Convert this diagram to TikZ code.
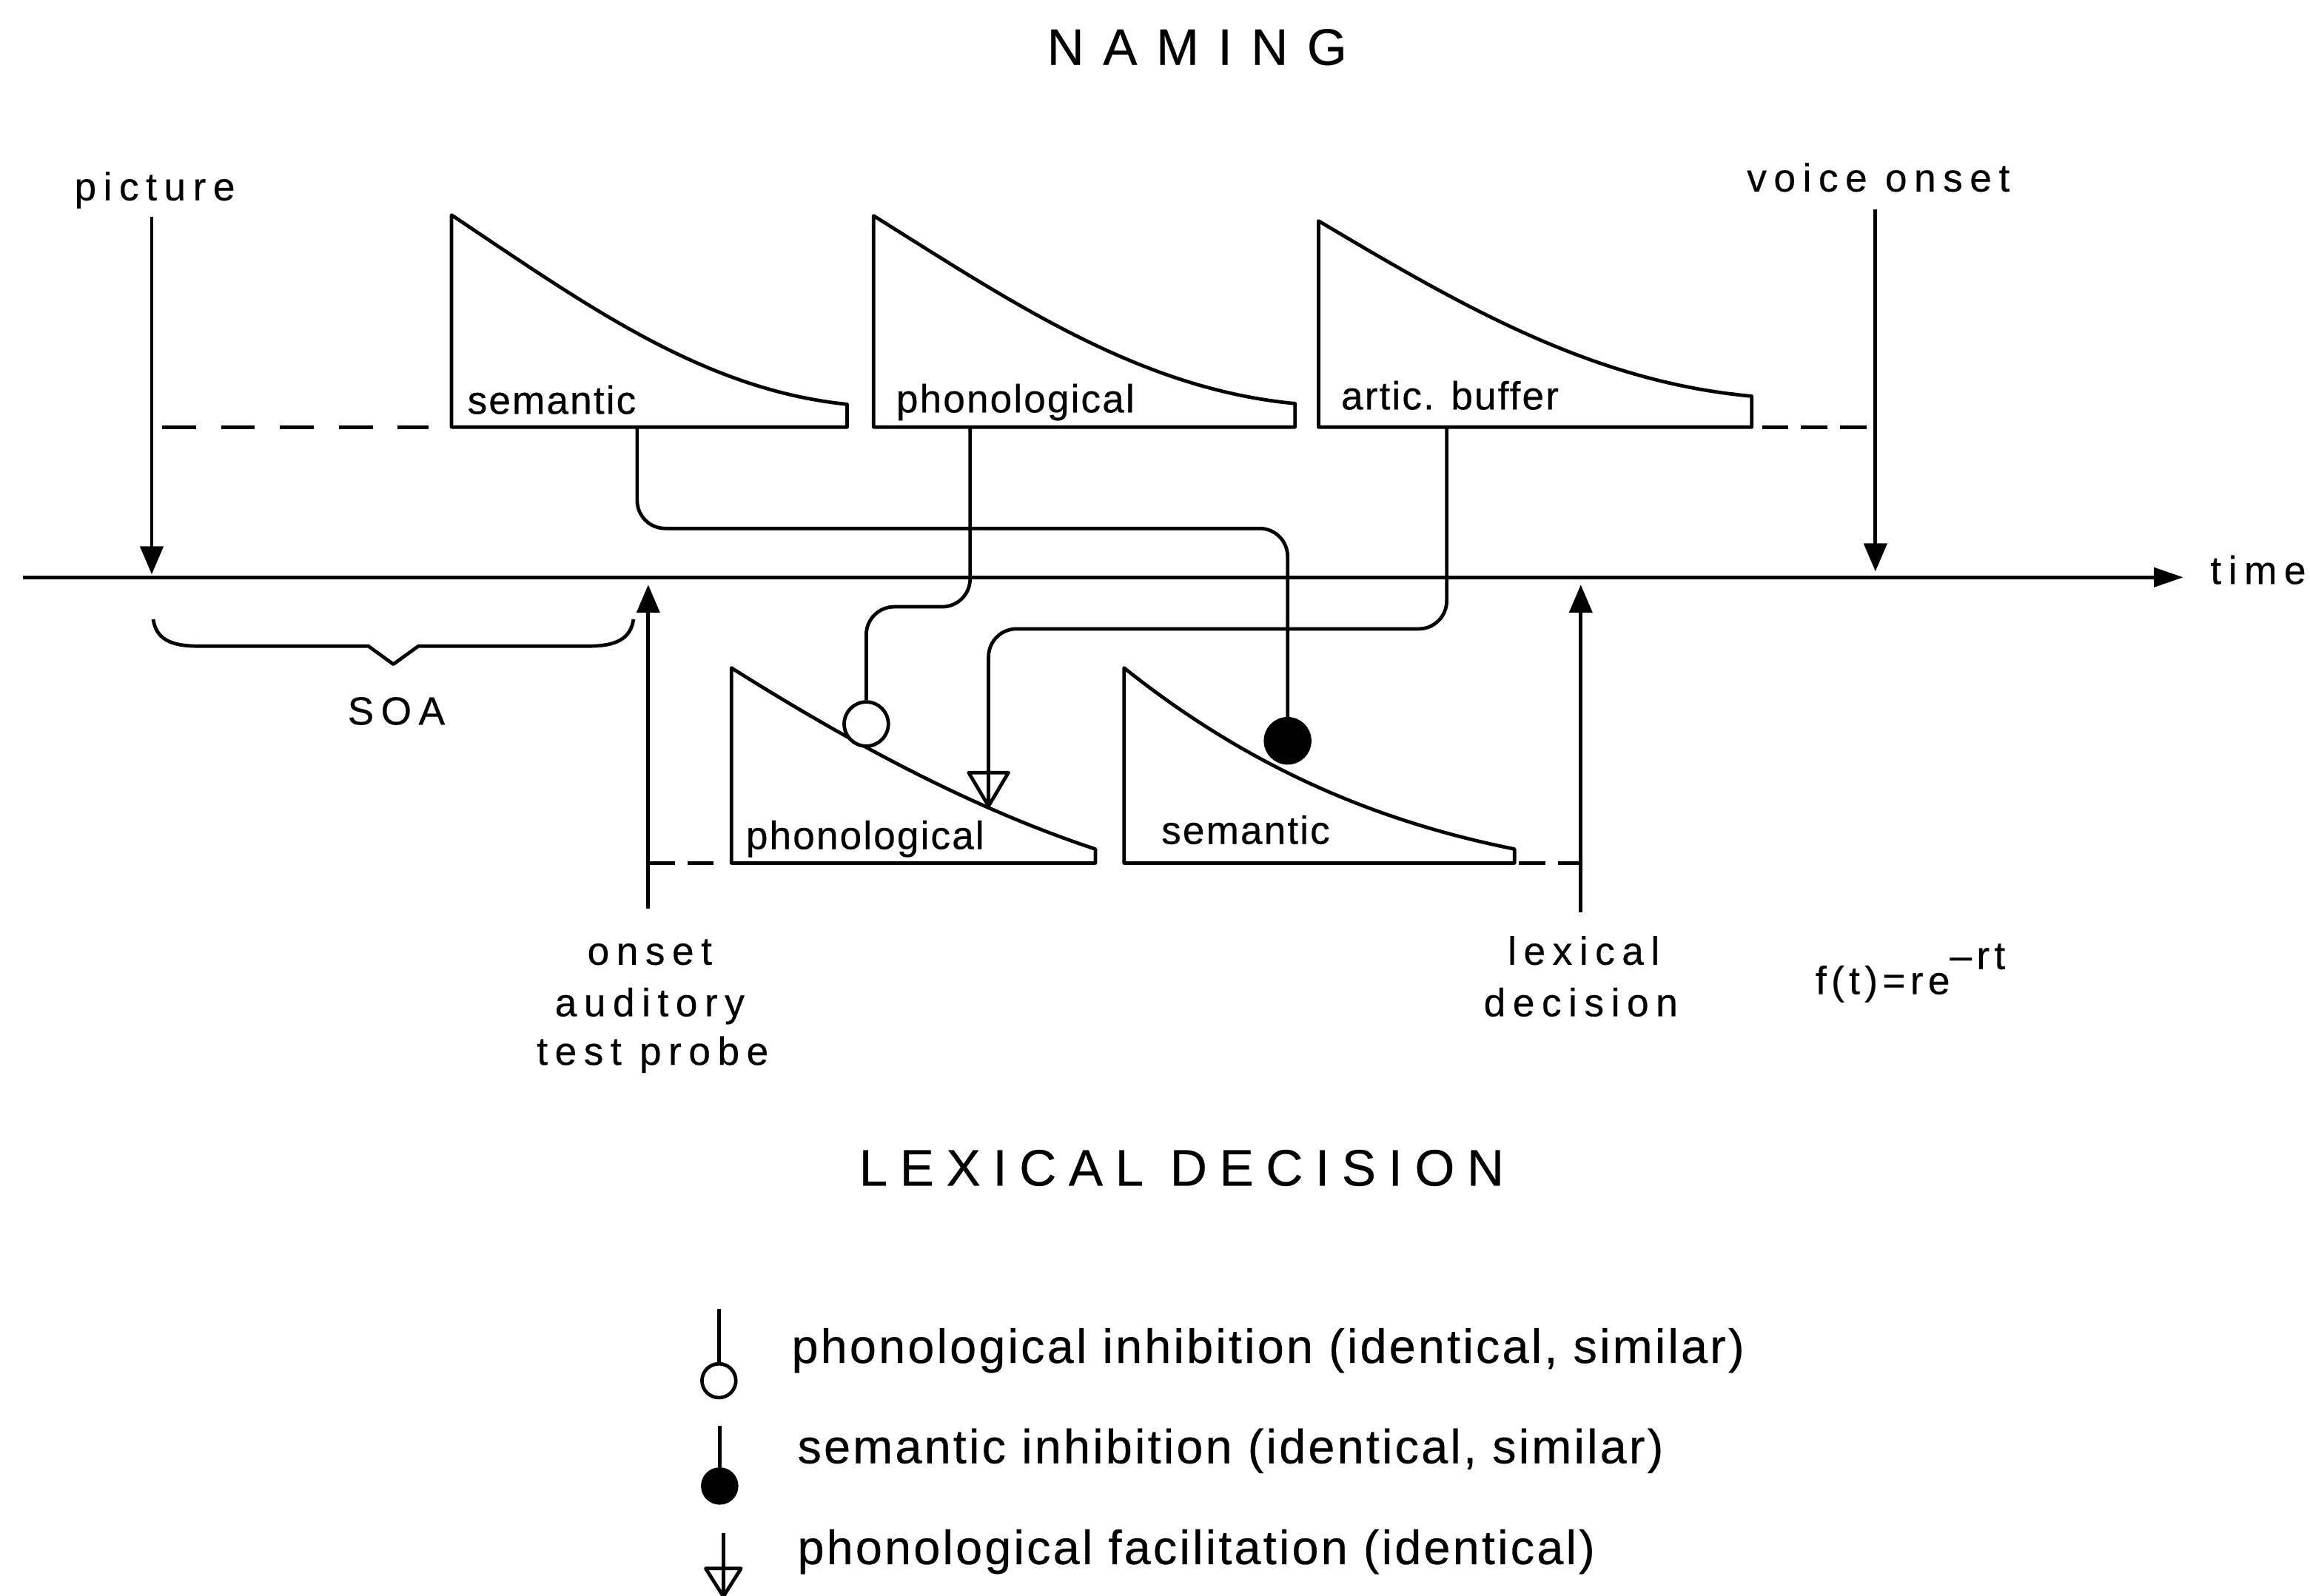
\documentclass[tikz,border=0pt]{standalone}
\usepackage{fontspec}
\setmainfont{Liberation Sans}
\newfontfamily\lblfont[LetterSpace=18,FakeBold=0.4]{Liberation Sans}
\newfontfamily\ftfont[LetterSpace=12,FakeBold=0.4]{Liberation Sans}
\newfontfamily\trifont[LetterSpace=4,FakeBold=0.4]{Liberation Sans}
\newfontfamily\legfont[LetterSpace=5,FakeBold=0.4]{Liberation Sans}
\newfontfamily\namefont[LetterSpace=37,FakeBold=0.4]{Liberation Sans}
\newfontfamily\lexfont[LetterSpace=24,FakeBold=0.4]{Liberation Sans}
\usetikzlibrary{arrows.meta,calc}

\tikzset{
  ln/.style={line width=1.35pt, line join=round},
  conn/.style={ln, rounded corners=0.38cm},
  marrow/.style={ln, -{Triangle[length=0.38cm,width=0.31cm]}},
  taxis/.style={ln, -{Triangle[length=0.4cm,width=0.26cm]}},
  lbl/.style={inner sep=0, font=\lblfont\fontsize{15.2}{18.8}\selectfont},
  trilbl/.style={inner sep=0, anchor=base west, font=\trifont\fontsize{15.2}{18}\selectfont},
  leg/.style={inner sep=0, anchor=base west, font=\legfont\fontsize{18.5}{22}\selectfont},
  ttl/.style={inner sep=0, anchor=base},
  inhopen/.style={circle, draw, line width=1.35pt, fill=white, inner sep=0, minimum size=0.6cm},
  inhfill/.style={circle, draw, fill=black, line width=1.35pt, inner sep=0, minimum size=0.6cm},
  dsh/.style={ln, dash pattern=on 0.46cm off 0.34cm},
  dshs/.style={ln, dash pattern=on 0.36cm off 0.17cm},
}

% name, x0, ytop, ybottom, x1, yend, first control point, second control point
\newcommand\decayshape[8]{%
  \coordinate (#1-tl) at (#2,#3);
  \coordinate (#1-bl) at (#2,#4);
  \coordinate (#1-br) at (#5,#4);
  \coordinate (#1-tr) at (#5,#6);
  \draw[ln] (#1-tr) -- (#1-br) -- (#1-bl) -- (#1-tl)
    .. controls (#7) and (#8) .. (#1-tr) -- cycle;
}

\begin{document}
\begin{tikzpicture}[x=0.02cm, y=-0.02cm]
\fill[white] (0,0) rectangle (1568,1083.2);
\useasboundingbox (0,0) rectangle (1568,1083.2);

% titles
\node[ttl, font=\namefont\fontsize{19.8}{24}\selectfont] (naming) at (812.5,44) {NAMING};
\node[ttl, font=\lexfont\fontsize{19.8}{24}\selectfont] (lexdec) at (802,805) {LEXICAL DECISION};

% time axis
\coordinate (ax0) at (15.6,392);
\coordinate (ax1) at (1482,392);
\draw[taxis] (ax0) -- (ax1);
\node[lbl, anchor=base west] (time) at (1500,396.5) {time};

% activation curves, naming
\decayshape{semT}{306.5}{146}{290}{575}{274.5}{396.7,206.3}{476.7,264.5}
\decayshape{phoT}{593}{146.5}{290}{879}{274}{689.1,206.8}{774.3,264}
\decayshape{artT}{895}{150}{290}{1189}{269}{993.8,208.8}{1081.4,259.2}
% activation curves, lexical decision
\decayshape{phoB}{496.5}{453.5}{586}{743.5}{576.5}{578.8,505.4}{661.2,549.3}
\decayshape{semB}{763}{453.5}{586}{1028}{576.5}{851.3,524.1}{939.7,558.8}

\node[trilbl] (semTl) at (317,281) {semantic};
\node[trilbl] (phoTl) at (608,280) {phonological};
\node[trilbl] (artTl) at (910,278) {artic. buffer};
\node[trilbl] (phoBl) at (506,576.5) {phonological};
\node[trilbl] (semBl) at (788,573) {semantic};

% event arrows
\node[lbl, anchor=base] (pic) at (105,136) {picture};
\coordinate (picA) at (103,147);
\coordinate (picB) at (103,390);
\draw[marrow] (picA) -- (picB);

\node[lbl, anchor=base] (voice) at (1275,130) {voice onset};
\coordinate (voA) at (1273,142);
\coordinate (voB) at (1273,388);
\draw[marrow] (voA) -- (voB);

\coordinate (onA) at (440,617);
\coordinate (onB) at (440,397);
\draw[marrow] (onA) -- (onB);
\node[lbl, anchor=base] (on1) at (441,655) {onset};
\node[lbl, anchor=base] (on2) at (441,690) {auditory};
\node[lbl, anchor=base] (on3) at (443,723) {test probe};

\coordinate (ldA) at (1073,619.5);
\coordinate (ldB) at (1073,397);
\draw[marrow] (ldA) -- (ldB);
\node[lbl, anchor=base] (ld1) at (1075,655) {lexical};
\node[lbl, anchor=base] (ld2) at (1073,690) {decision};

\node[inner sep=0, anchor=base west, font=\ftfont\fontsize{15.2}{18.8}\selectfont] (ft) at (1232,675) {f(t)=re\raisebox{0.34cm}{\textendash rt}};

% dashed extensions
\coordinate (d1a) at (110,290);   \coordinate (d1b) at (291,290);
\draw[dsh] (d1a) -- (d1b);
\coordinate (d2a) at (1196,290);  \coordinate (d2b) at (1273,290);
\draw[dshs] (d2a) -- (d2b);
\coordinate (d3a) at (440,586);   \coordinate (d3b) at (485,586);
\draw[dshs] (d3a) -- (d3b);
\coordinate (d4a) at (1031,586);  \coordinate (d4b) at (1073,586);
\draw[dshs] (d4a) -- (d4b);

% SOA brace
\coordinate (br0) at (104,420.5);
\coordinate (br1) at (430,420.5);
\coordinate (brm) at (267,451);
\draw[ln] (br0) .. controls (106,434) and (116,438.7) .. (134.5,438.7) -- (250,438.7) -- (brm) -- (284,438.7) -- (399.5,438.7) .. controls (418,438.7) and (428,434) .. (br1);
\node[lbl, anchor=base] (soa) at (269,492) {SOA};

% connectors
\coordinate (c1a) at (432.5,290);
\coordinate (c1b) at (874,358.8);
\node[inhfill] (inhS) at (874,503) {};
\draw[conn] (c1a) |- (c1b) -- (inhS.north);

\coordinate (c2a) at (658.5,290);
\coordinate (c2b) at (588,412);
\node[inhopen] (inhP) at (588,491.6) {};
\draw[conn] (c2a) |- (c2b) -- (inhP.north);

\coordinate (c3a) at (982,290);
\coordinate (c3b) at (671,427);
\coordinate (fac) at (671,547.3);
\draw[conn] (c3a) |- (c3b) -- (fac);
\draw[ln] (657.5,524.6) -- (684.5,524.6) -- (fac) -- cycle;

% legend
\node[inhopen, minimum size=0.46cm] (l1c) at (488,937.5) {};
\coordinate (l1a) at (488,888.5);
\draw[ln] (l1a) -- (l1c.north);
\node[leg] (l1t) at (537,925.4) {phonological inhibition (identical, similar)};

\node[inhfill, minimum size=0.46cm] (l2c) at (488.5,1009) {};
\coordinate (l2a) at (488.5,968);
\draw[ln] (l2a) -- (l2c.north);
\node[leg] (l2t) at (541,993.5) {semantic inhibition (identical, similar)};

\coordinate (l3a) at (491,1041);
\coordinate (l3t) at (491,1084);
\draw[ln] (l3a) -- (l3t);
\draw[ln] (479,1065) -- (503,1065) -- (l3t) -- cycle;
\node[leg] (l3x) at (541,1062) {phonological facilitation (identical)};
\end{tikzpicture}
\end{document}
